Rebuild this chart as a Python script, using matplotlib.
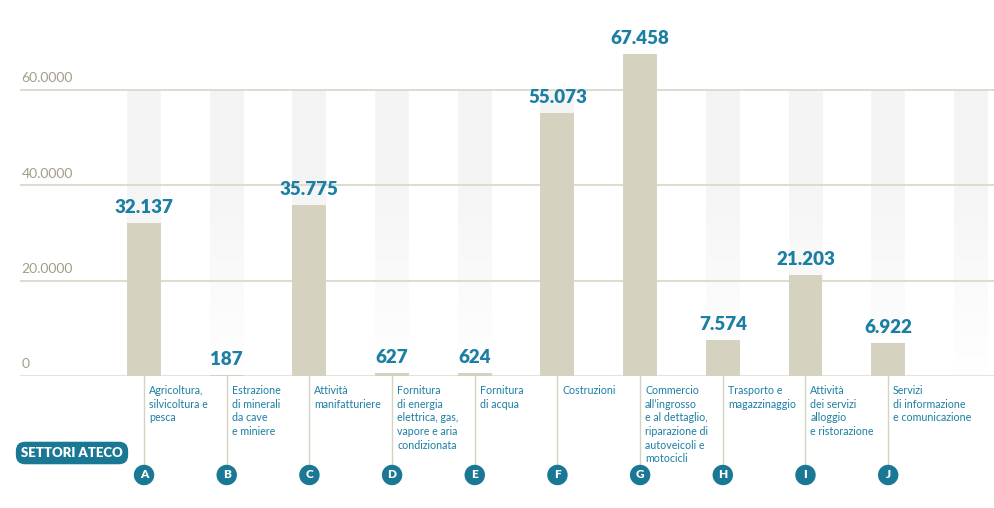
import numpy as np
import matplotlib.pyplot as plt
from matplotlib import transforms
from matplotlib.colors import LinearSegmentedColormap

plt.rcParams['font.family'] = ['Lato', 'DejaVu Sans']

letters = ["A", "B", "C", "D", "E", "F", "G", "H", "I", "J"]
values = [32137, 187, 35775, 627, 624, 55073, 67458, 7574, 21203, 6922]
sectors = [
    "Agricoltura,\nsilvicoltura e\npesca",
    "Estrazione\ndi minerali\nda cave\ne miniere",
    "Attività\nmanifatturiere",
    "Fornitura\ndi energia\nelettrica, gas,\nvapore e aria\ncondizionata",
    "Fornitura\ndi acqua",
    "Costruzioni",
    "Commercio\nall’ingrosso\ne al dettaglio,\nriparazione di\nautoveicoli e\nmotocicli",
    "Trasporto e\nmagazzinaggio",
    "Attività\ndei servizi\nalloggio\ne ristorazione",
    "Servizi\ndi informazione\ne comunicazione",
]
yticks = [0, 20000, 40000, 60000]
ytick_labels = ["0", "20.0000", "40.0000", "60.0000"]
n_slots = 11

BAR = "#d5d3c0"
TEAL = "#1a7fa3"
DARK_TEAL = "#1a7894"
GRID = "#dedcce"
TICK = "#a39d88"

W, H = 994, 508
fig = plt.figure(figsize=(W / 100, H / 100), dpi=100)
ax = fig.add_axes([20 / W, (H - 376) / H, (W - 20) / W, (376 - 20) / H])
ax.set_xlim(-1.5, 10.28)
ax.set_ylim(0, 74630)
ax.axis("off")

bw = 0.41
x = np.arange(len(values))

# faded background columns
fade = LinearSegmentedColormap.from_list("fade", ["#ffffff", "#fafafa", "#f5f5f5", "#f4f4f4"])
grad = np.linspace(1, 0, 200).reshape(-1, 1)
for i in range(n_slots):
    ax.imshow(grad, cmap=fade, aspect="auto", extent=[i - bw / 2, i + bw / 2, 0, 60000],
              zorder=0, interpolation="bilinear")

for t, lab in zip(yticks, ytick_labels):
    ax.axhline(t, color=GRID, lw=1.4 if t else 1.8, zorder=1)
    ax.annotate(lab, (-1.5, t), xytext=(1, 4), textcoords="offset points",
                ha="left", va="bottom", fontsize=10, color=TICK)

ax.bar(x, values, width=bw, color=BAR, zorder=2)

for xi, v in zip(x, values):
    lab = f"{v:,}".replace(",", ".")
    ax.annotate(lab, (xi, v), xytext=(0, 5), textcoords="offset points",
                ha="center", va="bottom", fontsize=13.5, fontweight="heavy", color=TEAL)

# labels under the axis
tr = transforms.blended_transform_factory(ax.transData, fig.transFigure)
y_base = (H - 376) / H
y_circ = (H - 475) / H
for xi, let, txt in zip(x, letters, sectors):
    ax.plot([xi, xi], [y_base, y_circ], transform=tr, color=BAR, lw=1, clip_on=False, zorder=1)
    ax.text(xi + 0.06, (H - 385) / H, txt, transform=tr, ha="left", va="top",
            fontsize=7.7, color=TEAL, linespacing=1.3)
    ax.text(xi, y_circ, let, transform=tr, ha="center", va="center", fontsize=8.5,
            fontweight="heavy", color="white", zorder=4,
            bbox=dict(boxstyle="circle,pad=0.4", fc=DARK_TEAL, ec="none"))

fig.text(72 / W, (H - 453) / H, "SETTORI ATECO", ha="center", va="center", fontsize=9.5,
         fontweight="heavy", color="white",
         bbox=dict(boxstyle="round,pad=0.4,rounding_size=0.7", fc=DARK_TEAL, ec="none"))

fig.savefig("out.png", dpi=100)
